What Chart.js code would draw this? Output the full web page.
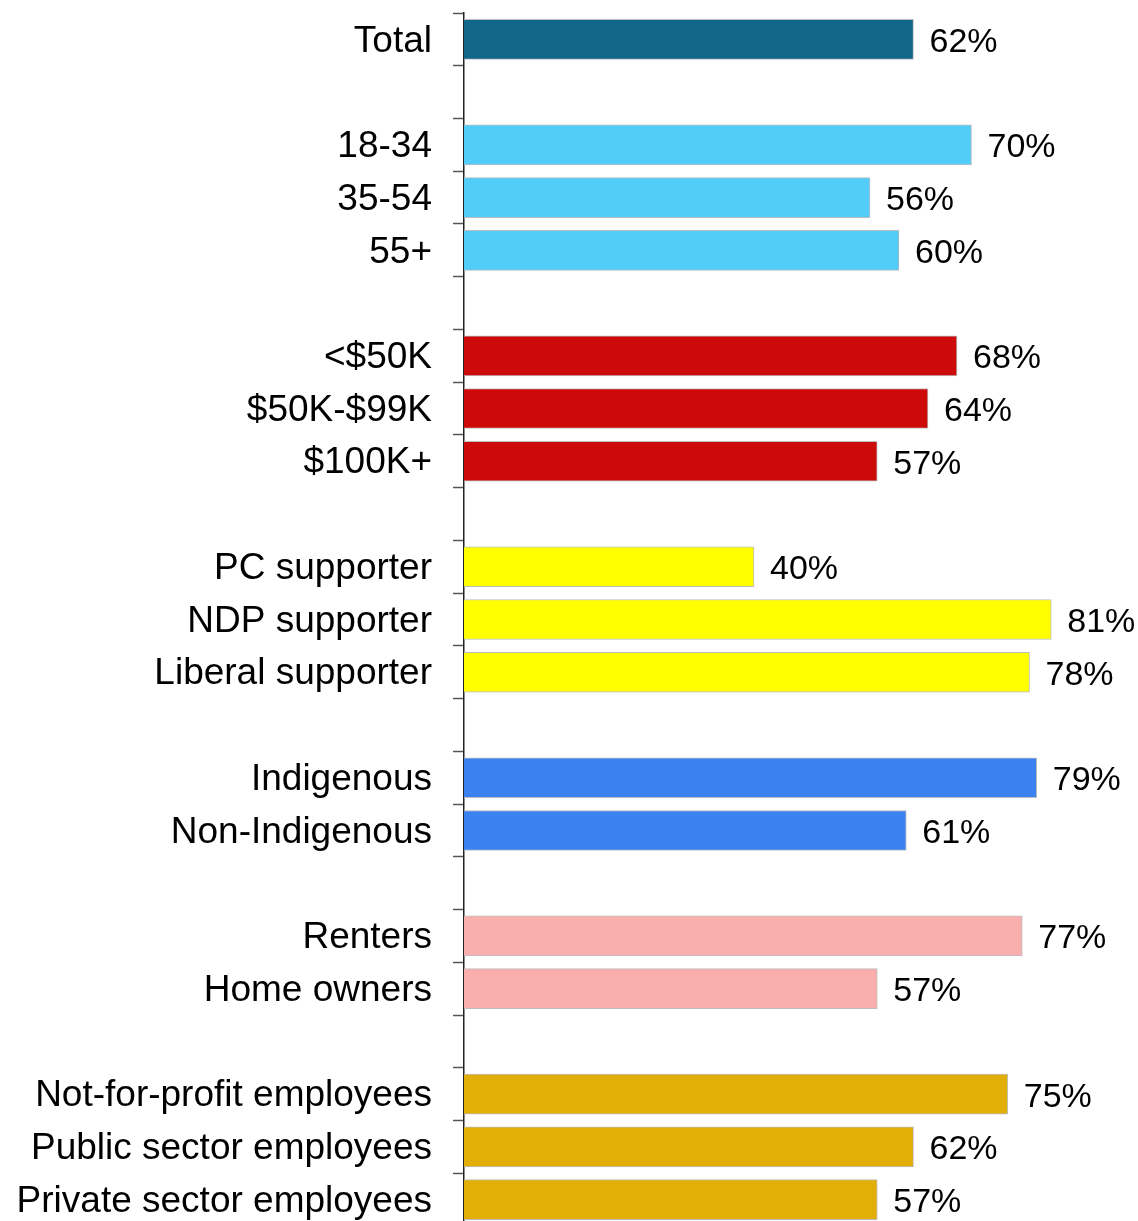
<!DOCTYPE html>
<html>
<head>
<meta charset="utf-8">
<script src="https://cdn.jsdelivr.net/npm/chart.js@4"></script>
<style>
  html, body { margin: 0; padding: 0; background: #fff; overflow: hidden; }
  #wrap { width: 1138px; height: 1221px; overflow: hidden; }
</style>
</head>
<body>
<div id="wrap"><canvas id="canvas" width="1200" height="1240"></canvas></div>
<script>
// empty strings are spacer rows between the groups
const categories = [
  'Total', '',
  '18-34', '35-54', '55+', '',
  '<$50K', '$50K-$99K', '$100K+', '',
  'PC supporter', 'NDP supporter', 'Liberal supporter', '',
  'Indigenous', 'Non-Indigenous', '',
  'Renters', 'Home owners', '',
  'Not-for-profit employees', 'Public sector employees', 'Private sector employees'
];
const values = [
  62, null,
  70, 56, 60, null,
  68, 64, 57, null,
  40, 81, 78, null,
  79, 61, null,
  77, 57, null,
  75, 62, 57
];

const groupColors = {
  total: '#126789', age: '#52CDFA', income: '#CC0A0A', party: '#FFFF00',
  indigenous: '#3B82F0', housing: '#FBAEAE', sector: '#E2AE08'
};
const barColors = [
  groupColors.total, null,
  groupColors.age, groupColors.age, groupColors.age, null,
  groupColors.income, groupColors.income, groupColors.income, null,
  groupColors.party, groupColors.party, groupColors.party, null,
  groupColors.indigenous, groupColors.indigenous, null,
  groupColors.housing, groupColors.housing, null,
  groupColors.sector, groupColors.sector, groupColors.sector
];

const FONT = '"Liberation Sans", Arial, sans-serif';

// writes "NN%" just past the end of each bar
const valueLabels = {
  id: 'valueLabels',
  afterDatasetsDraw(chart) {
    const ctx = chart.ctx;
    const meta = chart.getDatasetMeta(0);
    ctx.save();
    ctx.font = '34px ' + FONT;
    ctx.fillStyle = '#000';
    ctx.textAlign = 'left';
    ctx.textBaseline = 'middle';
    meta.data.forEach((bar, i) => {
      if (values[i] == null) return;
      ctx.fillText(values[i] + '%', bar.x + 16, bar.y + 3);
    });
    ctx.restore();
  }
};

new Chart(document.getElementById('canvas'), {
  type: 'bar',
  data: {
    labels: categories,
    datasets: [{
      data: values,
      backgroundColor: barColors,
      borderColor: '#bdbdbd',
      borderWidth: 1,
      barThickness: 40
    }]
  },
  options: {
    indexAxis: 'y',
    responsive: false,
    animation: false,
    layout: { padding: { left: 0, top: 13, right: 11, bottom: 14 } },
    plugins: {
      legend: { display: false },
      tooltip: { enabled: false }
    },
    scales: {
      x: {
        display: false,
        min: 0,
        max: 100
      },
      y: {
        afterFit(scale) {
          scale.width = 464;
          // no extra room for the first/last label
          scale.paddingTop = 0;
          scale.paddingBottom = 0;
        },
        grid: {
          drawOnChartArea: false,
          drawTicks: true,
          tickLength: 11,
          tickColor: '#555',
          tickWidth: 1.5
        },
        border: { display: true, color: '#222', width: 1.5 },
        ticks: {
          color: '#000',
          padding: 21,
          labelOffset: 2,
          autoSkip: false,
          font: { family: FONT, size: 37 }
        }
      }
    }
  },
  plugins: [valueLabels]
});
</script>
</body>
</html>
